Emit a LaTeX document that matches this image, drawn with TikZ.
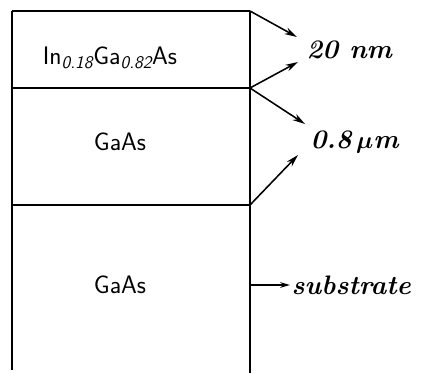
\documentclass[tikz,border=0pt]{standalone}
\usetikzlibrary{arrows.meta}
\begin{document}
\begin{tikzpicture}[x=0.025cm,y=-0.025cm,
  wall/.style={line width=1.3pt},
  arr/.style={-{Stealth[length=9pt,width=5pt]},line width=1.1pt},
  lay/.style={font=\sffamily\fontsize{18}{20}\selectfont},
  dim/.style={font=\bfseries\itshape\fontsize{19}{21}\selectfont,anchor=west,inner sep=1pt}]
\useasboundingbox (0,0) rectangle (422,374);
% layer boundaries
\foreach \n/\y in {t/11,a/88,b/205}{
  \coordinate (l\n) at (12,\y);
  \coordinate (r\n) at (250,\y);
  \draw[wall] (l\n) -- (r\n);
}
\coordinate (lz) at (12,370);
\coordinate (rz) at (250,373);
\draw[wall] (lt) -- (lz);
\draw[wall] (rt) -- (rz);
% layer names
\node[lay] (ingaas) at (110,58) {In\textsubscript{\itshape 0.18}Ga\textsubscript{\itshape 0.82}As};
\node[lay] (gaas1) at (120,142) {GaAs};
\node[lay] (gaas2) at (120,285) {GaAs};
% thicknesses
\node[dim] (nm) at (305,50) {20 nm};
\node[dim] (um) at (309,142) {0.8\,{\boldmath$\mu$}m};
\node[dim] (sub) at (290,285) {substrate};
\foreach \from/\x/\y [count=\i] in {rt/297/37,ra/298/62,ra/305/124,rb/298/155}{
  \coordinate (tip\i) at (\x,\y);
  \draw[arr] (\from) -- (tip\i);
}
\coordinate (rs) at (250,285);
\draw[arr,-{Stealth[length=7pt,width=4pt]}] (rs) -- (sub.west);
\end{tikzpicture}
\end{document}
